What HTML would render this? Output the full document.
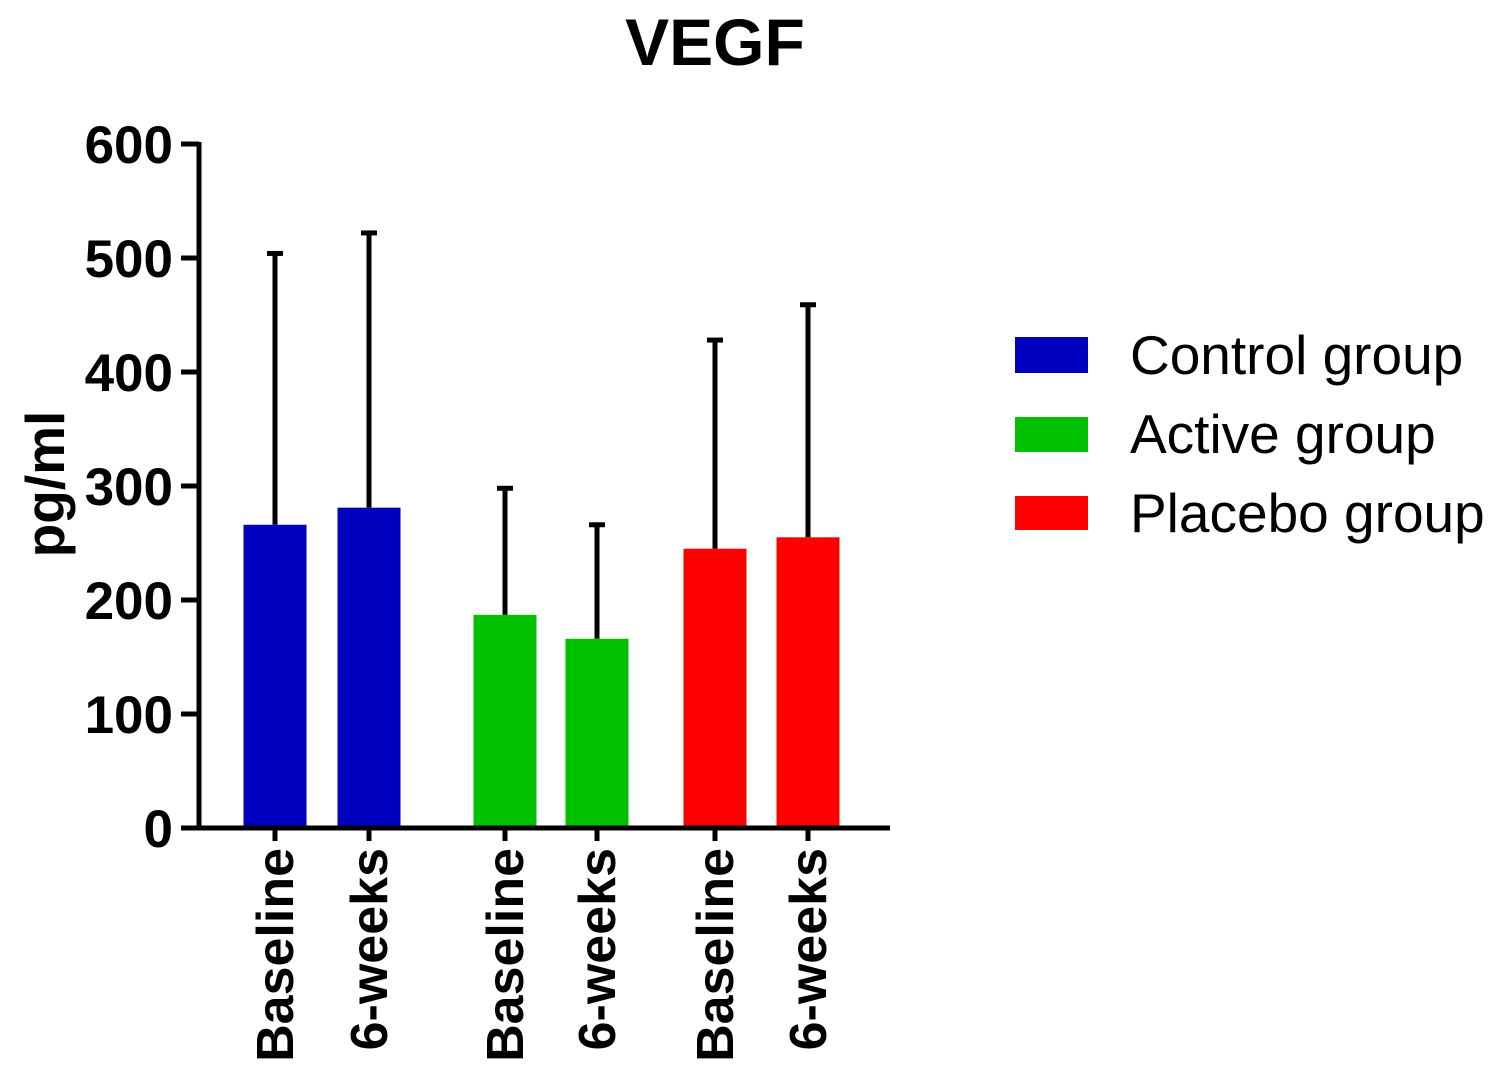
<!DOCTYPE html>
<html><head><meta charset="utf-8"><style>
body{margin:0;background:#fff;}
svg text{font-family:"Liberation Sans",Arial,sans-serif;font-weight:bold;fill:#000;}
</style></head><body>
<svg id="chart" width="1500" height="1077">
<text x="715" y="65" font-size="66" text-anchor="middle">VEGF</text>
<text transform="translate(64,484) rotate(-90)" font-size="55" text-anchor="middle">pg/ml</text>
<g id="yaxis"></g><g id="bars"></g><g id="xaxis"></g>
<g>
<rect x="1015" y="337" width="73" height="36" fill="#0000c0"/>
<text x="1130" y="374" font-size="55" style="font-weight:normal">Control group</text>
<rect x="1015" y="417" width="73" height="35" fill="#00c000"/>
<text x="1130" y="453" font-size="55" style="font-weight:normal">Active group</text>
<rect x="1015" y="496" width="73" height="34" fill="#ff0000"/>
<text x="1130" y="532" font-size="55" style="font-weight:normal">Placebo group</text>
</g>
</svg>
<script>
const categories = ["Baseline","6-weeks","Baseline","6-weeks","Baseline","6-weeks"];
const groups = ["control","control","active","active","placebo","placebo"];
const means = [266, 281, 187, 166, 245, 255];
const upperErr = [504, 522, 298, 266, 428, 459];
const yTicks = [0,100,200,300,400,500,600];
const colors = {control:"#0000c0",active:"#00c000",placebo:"#ff0000"};
const barCenters = [275, 369, 505, 597, 715, 808];
const NS="http://www.w3.org/2000/svg";
const y0=828, pxPer=(828-144)/600;
function yS(v){return y0-v*pxPer;}
function mk(tag,attrs,parent){const e=document.createElementNS(NS,tag);for(const k in attrs)e.setAttribute(k,attrs[k]);parent.appendChild(e);return e;}
const ya=document.getElementById('yaxis'), bg=document.getElementById('bars'), xa=document.getElementById('xaxis');
let l=mk('line',{x1:199,y1:yS(600)-2,x2:199,y2:y0+2,stroke:'#000','stroke-width':5},ya);


yTicks.forEach(t=>{
  const tk=mk('line',{x1:181,y1:yS(t),x2:199,y2:yS(t),stroke:'#000','stroke-width':5},ya);
  
  
  const tx=mk('text',{x:173,y:yS(t)+19,'font-size':53,'text-anchor':'end'},ya);
  tx.textContent=t;
  
  
});
const xl=mk('line',{x1:181,y1:y0,x2:890,y2:y0,stroke:'#000','stroke-width':5},xa);


means.forEach((m,i)=>{
  const c=barCenters[i], w=63;
  const eb=mk('line',{x1:c,y1:yS(upperErr[i]),x2:c,y2:yS(m),stroke:'#000','stroke-width':5},bg);
  
  
  const cap=mk('line',{x1:c-8,y1:yS(upperErr[i]),x2:c+8,y2:yS(upperErr[i]),stroke:'#000','stroke-width':5},bg);
  
  
  const r=mk('rect',{x:c-w/2,y:yS(m),width:w,height:y0-yS(m),fill:colors[groups[i]]},bg);
  
  
  const tk=mk('line',{x1:c,y1:y0,x2:c,y2:y0+13,stroke:'#000','stroke-width':5},xa);
  
  
  const tx=mk('text',{transform:`translate(${c+18},${y0+20}) rotate(-90)`,'font-size':52,'text-anchor':'end'},xa);
  tx.textContent=categories[i];
  
  
});
</script>
</body></html>
